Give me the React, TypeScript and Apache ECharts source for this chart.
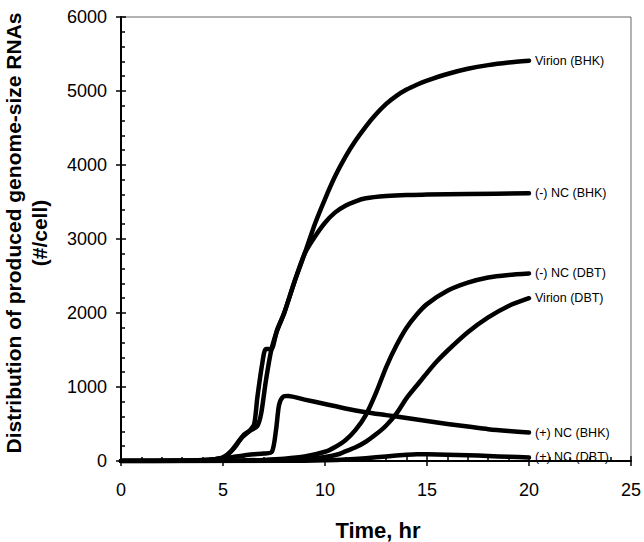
import React, { useEffect, useRef } from "react";
import * as echarts from "echarts";

// Time (hr) / RNAs per cell
const virionBHK: [number, number][] = [
  [0, 0], [3, 3], [4, 10], [4.6, 25], [5.07, 50], [5.56, 180], [6.04, 360], [6.4, 420],
  [6.68, 470], [6.87, 640], [7.1, 1080], [7.36, 1490], [7.65, 1760], [8, 2000], [8.5, 2420],
  [9, 2800], [9.5, 3200], [10, 3540], [10.5, 3850], [11, 4110], [11.5, 4330], [12, 4520],
  [12.5, 4685], [13, 4825], [13.5, 4935], [14, 5020], [14.5, 5085], [15, 5140], [16, 5230],
  [17, 5300], [18, 5350], [19, 5385], [20, 5410],
];
const negNcBHK: [number, number][] = [
  [0, 0], [3, 3], [4, 10], [4.6, 25], [5.0, 50], [5.4, 135], [5.9, 310], [6.29, 405],
  [6.53, 500], [6.68, 850], [6.92, 1310], [7.1, 1515], [7.36, 1510], [7.65, 1770], [8, 2000],
  [8.5, 2420], [9, 2800], [9.5, 3030], [10, 3220], [10.5, 3360], [11, 3450], [11.5, 3510],
  [12, 3550], [13, 3580], [14, 3595], [15, 3600], [17, 3608], [20, 3617],
];
const negNcDBT: [number, number][] = [
  [0, 0], [5, 3], [6, 8], [7, 15], [8, 30], [9, 60], [10, 125], [10.5, 190], [11, 280],
  [11.5, 420], [12, 620], [12.5, 920], [13, 1270], [13.5, 1560], [14, 1800], [14.5, 1980],
  [15, 2120], [16, 2300], [17, 2410], [18, 2480], [19, 2515], [20, 2535],
];
const virionDBT: [number, number][] = [
  [0, 0], [6, 3], [8, 12], [9, 25], [10, 55], [10.7, 95], [11, 130], [11.5, 185], [12, 260],
  [12.5, 360], [13, 480], [13.5, 640], [14, 850], [14.5, 1020], [15, 1190], [15.5, 1350],
  [16, 1490], [17, 1740], [18, 1940], [19, 2095], [20, 2200],
];
const posNcBHK: [number, number][] = [
  [0, 0], [3, 3], [4, 12], [5, 35], [5.5, 55], [6, 75], [6.5, 90], [7, 100], [7.4, 125],
  [7.6, 420], [7.75, 760], [7.95, 870], [8.2, 880], [9, 830], [10, 770], [11, 710], [12, 660],
  [13, 620], [14, 580], [15, 540], [16, 500], [17, 465], [18, 430], [19, 405], [20, 385],
];
const posNcDBT: [number, number][] = [
  [0, 0], [8, 2], [9, 5], [10, 10], [11, 20], [12, 38], [13, 62], [14, 85], [14.5, 92],
  [15, 90], [16, 85], [17, 78], [18, 68], [19, 57], [20, 48],
];

const seriesDefs: { name: string; data: [number, number][] }[] = [
  { name: "Virion (BHK)", data: virionBHK },
  { name: "(-) NC (BHK)", data: negNcBHK },
  { name: "(-) NC (DBT)", data: negNcDBT },
  { name: "Virion (DBT)", data: virionDBT },
  { name: "(+) NC (BHK)", data: posNcBHK },
  { name: "(+) NC (DBT)", data: posNcDBT },
];

// major tick values (used for the outer halves of the crossing ticks)
const xTickValues = [0, 5, 10, 15, 20, 25];
const yTickValues = [0, 1000, 2000, 3000, 4000, 5000, 6000];

const FONT = '"Liberation Sans", Arial, Helvetica, sans-serif';

export default function App() {
  const ref = useRef<HTMLDivElement>(null);
  useEffect(() => {
    if (!ref.current) return;
    const chart = echarts.init(ref.current, undefined, { renderer: "svg" });
    const tickStyle = { color: "#000", width: 1.5 };
    chart.setOption({
      animation: false,
      backgroundColor: "#fff",
      grid: {
        left: 121, right: 10, top: 17, bottom: 81,
        show: true, borderColor: "#666", borderWidth: 1, backgroundColor: "transparent",
      },
      xAxis: {
        type: "value", min: 0, max: 25, interval: 5,
        splitLine: { show: false },
        axisLine: { show: true, onZero: false, lineStyle: { color: "#000", width: 2 } },
        axisTick: { show: true, inside: true, length: 5, lineStyle: tickStyle },
        minorTick: { show: true, splitNumber: 5, length: 4, lineStyle: tickStyle },
        axisLabel: { color: "#000", fontSize: 18, fontFamily: FONT, margin: 20 },
      },
      yAxis: {
        type: "value", min: 0, max: 6000, interval: 1000,
        splitLine: { show: false },
        axisLine: { show: true, onZero: false, lineStyle: { color: "#000", width: 2 } },
        axisTick: { show: true, inside: true, length: 5, lineStyle: tickStyle },
        minorTick: { show: true, splitNumber: 5, length: 4, lineStyle: tickStyle },
        axisLabel: {
          color: "#000", fontSize: 18, fontFamily: FONT, margin: 14,
          formatter: (v: number) => String(v),
        },
      },
      graphic: [
        {
          type: "text",
          x: 26,
          y: 233,
          rotation: Math.PI / 2,
          style: {
            text: "Distribution of produced genome-size RNAs\n(#/cell)",
            fontSize: 21,
            fontWeight: "bold",
            fontFamily: FONT,
            fill: "#000",
            lineHeight: 26,
            align: "center",
            verticalAlign: "middle",
            textAlign: "center",
            textVerticalAlign: "middle",
          },
        },
        {
          type: "text",
          x: 378,
          y: 530,
          style: {
            text: "Time, hr",
            fontSize: 22,
            fontWeight: "bold",
            fontFamily: FONT,
            fill: "#000",
            align: "center",
            verticalAlign: "middle",
            textAlign: "center",
            textVerticalAlign: "middle",
          },
        },
      ],
      series: [
        ...seriesDefs.map((s) => ({
          type: "line",
          name: s.name,
          data: s.data,
          showSymbol: false,
          smooth: 0.25,
          lineStyle: { color: "#000", width: 4.5, cap: "round", join: "round" },
          itemStyle: { color: "#000" },
          endLabel: {
            show: true,
            formatter: "{a}",
            color: "#000",
            fontSize: 12.5,
            fontFamily: FONT,
            distance: 6,
          },
          emphasis: { disabled: true },
          z: 3,
        })),
        {
          type: "custom",
          name: "xTicksOuter",
          clip: false,
          silent: true,
          z: 1,
          data: xTickValues.map((v) => [v, 0]),
          renderItem: (_p: any, api: any) => {
            const c = api.coord([api.value(0), 0]);
            return {
              type: "line",
              shape: { x1: c[0], y1: c[1], x2: c[0], y2: c[1] + 5 },
              style: { stroke: "#000", lineWidth: 1.5 },
            };
          },
        },
        {
          type: "custom",
          name: "yTicksOuter",
          clip: false,
          silent: true,
          z: 1,
          data: yTickValues.map((v) => [0, v]),
          renderItem: (_p: any, api: any) => {
            const c = api.coord([0, api.value(1)]);
            return {
              type: "line",
              shape: { x1: c[0] - 5, y1: c[1], x2: c[0], y2: c[1] },
              style: { stroke: "#000", lineWidth: 1.5 },
            };
          },
        },
      ],
    });
    return () => chart.dispose();
  }, []);
  return (
    <div
      ref={ref}
      style={{ position: "fixed", left: 0, top: 0, width: 644, height: 542, background: "#fff" }}
    />
  );
}
